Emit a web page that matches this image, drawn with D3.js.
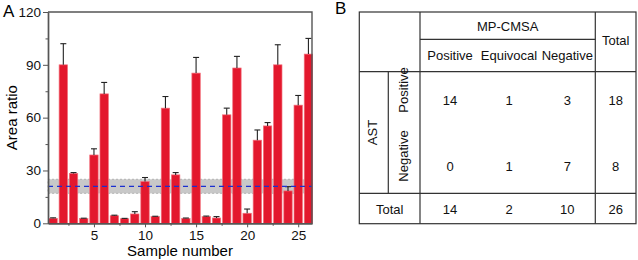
<!DOCTYPE html>
<html>
<head>
<meta charset="utf-8">
<script src="https://cdn.jsdelivr.net/npm/d3@7"></script>
<style>
  body { margin: 0; background: #fff; }
  svg { font-family: "Liberation Sans", Arial, sans-serif; }
</style>
</head>
<body>
<div id="chart"></div>
<script>
// Panel A data: area ratio per sample, with upper error
var samples = d3.range(1, 27);
var ratios = [2.8, 90, 28.3, 2.7, 38.8, 73.5, 4.3, 2.6, 5.3, 23.7, 3.8, 65.4, 27.5,
              2.8, 85.3, 3.8, 3.0, 61.6, 88.2, 5.7, 47.2, 55.3, 90, 18.4, 67.1, 96.1];
var errTops = [3.1, 102, 28.8, 2.9, 42.3, 80, 4.6, 2.8, 6.6, 26, 4.0, 72, 28.8,
               3.0, 94.2, 4.1, 3.8, 65.4, 94.8, 8.1, 53, 57.2, 101.4, 20.8, 72.6, 105];
var cutoff = 21;
var bandRange = [17, 25];
var yTicks = [0, 30, 60, 90, 120];
var xTicks = [5, 10, 15, 20, 25];

// Panel B data: contingency table
var colHeads = ["Positive", "Equivocal", "Negative"];
var rowHeads = ["Positive", "Negative"];
var counts = [[14, 1, 3], [0, 1, 7]];
var rowTotals = [18, 8];
var colTotals = [14, 2, 10];
var grandTotal = 26;

var svg = d3.select("#chart").append("svg")
    .attr("width", 638)
    .attr("height", 260);

//---------- Panel A ----------
var margin = {top: 12, left: 48, right: 312, bottom: 223.3};

var x = d3.scaleLinear().domain([0.5, 26.35]).range([margin.left, margin.right]);
var y = d3.scaleLinear().domain([0, 120]).range([margin.bottom, margin.top]);
var barW = 8.4;
var axisCol = "#555";

// gray band + cutoff line
svg.append("rect")
    .attr("x", margin.left)
    .attr("y", y(bandRange[1]))
    .attr("width", margin.right - margin.left)
    .attr("height", y(bandRange[0]) - y(bandRange[1]))
    .style("fill", "#c8c8c8")
    .style("stroke", "#aaa")
    .style("stroke-dasharray", "2,2")
    .style("stroke-width", 0.8);

// bars
svg.selectAll(".bar")
    .data(ratios)
    .enter()
    .append("rect")
    .attr("class", "bar")
    .attr("x", function(d, i) { return x(samples[i]) - barW / 2; })
    .attr("y", function(d) { return y(d); })
    .attr("width", barW)
    .attr("height", function(d) { return y(0) - y(d); })
    .style("fill", "#e3182d")
    .style("stroke", "#f3707c")
    .style("stroke-width", 0.7);

// error bars (upper only)
var err = svg.selectAll(".err")
    .data(errTops)
    .enter()
    .append("g")
    .attr("class", "err")
    .style("stroke", "#222")
    .style("stroke-width", 1.1);

err.append("line")
    .attr("x1", function(d, i) { return x(samples[i]); })
    .attr("x2", function(d, i) { return x(samples[i]); })
    .attr("y1", function(d, i) { return y(ratios[i]); })
    .attr("y2", function(d) { return y(d); });

err.append("line")
    .attr("x1", function(d, i) { return x(samples[i]) - 3; })
    .attr("x2", function(d, i) { return x(samples[i]) + 3; })
    .attr("y1", function(d) { return y(d); })
    .attr("y2", function(d) { return y(d); });

svg.append("line")
    .attr("x1", margin.left)
    .attr("x2", margin.right)
    .attr("y1", y(cutoff))
    .attr("y2", y(cutoff))
    .style("stroke", "#1a2fd0")
    .style("stroke-width", 1.3)
    .style("stroke-dasharray", "5,4");

// axes
var yAxis = svg.append("g")
    .attr("transform", "translate(" + margin.left + ",0)")
    .call(d3.axisLeft(y).tickValues(yTicks).tickSize(5).tickSizeOuter(0));
svg.append("g")
    .attr("transform", "translate(" + margin.left + ",0)")
    .call(d3.axisLeft(y).tickValues(d3.range(15, 120, 30)).tickSize(2.5).tickFormat("").tickSizeOuter(0));

var xAxis = svg.append("g")
    .attr("transform", "translate(0," + margin.bottom + ")")
    .call(d3.axisBottom(x).tickValues(xTicks).tickSize(4).tickSizeOuter(0));
svg.append("g")
    .attr("transform", "translate(0," + margin.bottom + ")")
    .call(d3.axisBottom(x).tickValues(d3.range(2.5, 26, 5)).tickSize(2.5).tickFormat("").tickSizeOuter(0));

svg.selectAll(".domain").style("stroke", axisCol).style("stroke-width", 1.4);
svg.selectAll(".tick line").style("stroke", axisCol).style("stroke-width", 1);
svg.selectAll(".tick text")
    .style("font-size", "13.5px")
    .style("fill", "#111")
    .style("font-family", "Liberation Sans, Arial, sans-serif");
yAxis.selectAll(".tick text").attr("x", -7);
xAxis.selectAll(".tick text").attr("y", 7);

// top and right frame
svg.append("path")
    .attr("d", "M" + margin.left + "," + margin.top + "H" + margin.right + "V" + margin.bottom)
    .style("fill", "none")
    .style("stroke", axisCol)
    .style("stroke-width", 1.4);

svg.append("text")
    .attr("transform", "translate(17," + (margin.top + margin.bottom) / 2 + ") rotate(-90)")
    .attr("text-anchor", "middle")
    .style("font-size", "15px")
    .text("Area ratio");

svg.append("text")
    .attr("x", (margin.left + margin.right) / 2)
    .attr("y", 256)
    .attr("text-anchor", "middle")
    .style("font-size", "15px")
    .text("Sample number");

svg.append("text")
    .attr("x", 3)
    .attr("y", 17)
    .style("font-size", "17px")
    .text("A");

//---------- Panel B ----------
var tb = svg.append("g");
var lineCol = "#333";
var L = 359.3, R = 636, T = 12, B = 223.7;
var xSub = 388.3, xData = 420, xTot = 595.3;
var yMid = 39.3, yHead = 71.7, yTotRow = 193.3;
var colX = [450, 509, 567.3];
var rowY = [100, 166];

tb.append("rect")
    .attr("x", L).attr("y", T)
    .attr("width", R - L).attr("height", B - T)
    .style("fill", "none").style("stroke", lineCol).style("stroke-width", 1.2);

var lines = [
    [xData, T, xData, B],
    [xTot, T, xTot, B],
    [xData, yMid, xTot, yMid],
    [L, yHead, R, yHead],
    [L, yTotRow, R, yTotRow],
    [xSub, yHead, xSub, yTotRow]
];
tb.selectAll(".gl")
    .data(lines)
    .enter()
    .append("line")
    .attr("x1", function(d) { return d[0]; })
    .attr("y1", function(d) { return d[1]; })
    .attr("x2", function(d) { return d[2]; })
    .attr("y2", function(d) { return d[3]; })
    .style("stroke", lineCol)
    .style("stroke-width", 1.2);

function cell(tx, ty, s, rot) {
    var t = tb.append("text")
        .attr("text-anchor", "middle")
        .attr("dominant-baseline", "central")
        .style("font-size", "13px")
        .style("fill", "#111")
        .text(s);
    if (rot) t.attr("transform", "translate(" + tx + "," + ty + ") rotate(-90)");
    else t.attr("x", tx).attr("y", ty);
}

cell((xData + xTot) / 2, 26.5, "MP-CMSA");
cell((xTot + R) / 2, 40, "Total");
colHeads.forEach(function(h, i) { cell(colX[i], 55, h); });
cell(372.5, 132.5, "AST", true);
rowHeads.forEach(function(h, i) { cell(403.5, rowY[i] - 10, h, true); });
counts.forEach(function(row, r) {
    row.forEach(function(v, c) { cell(colX[c], rowY[r], v); });
    cell((xTot + R) / 2, rowY[r], rowTotals[r]);
});
cell((L + xData) / 2, 209, "Total");
colTotals.forEach(function(v, c) { cell(colX[c], 209, v); });
cell((xTot + R) / 2, 209, grandTotal);

svg.append("text")
    .attr("x", 335)
    .attr("y", 14)
    .style("font-size", "17px")
    .text("B");
</script>
</body>
</html>
